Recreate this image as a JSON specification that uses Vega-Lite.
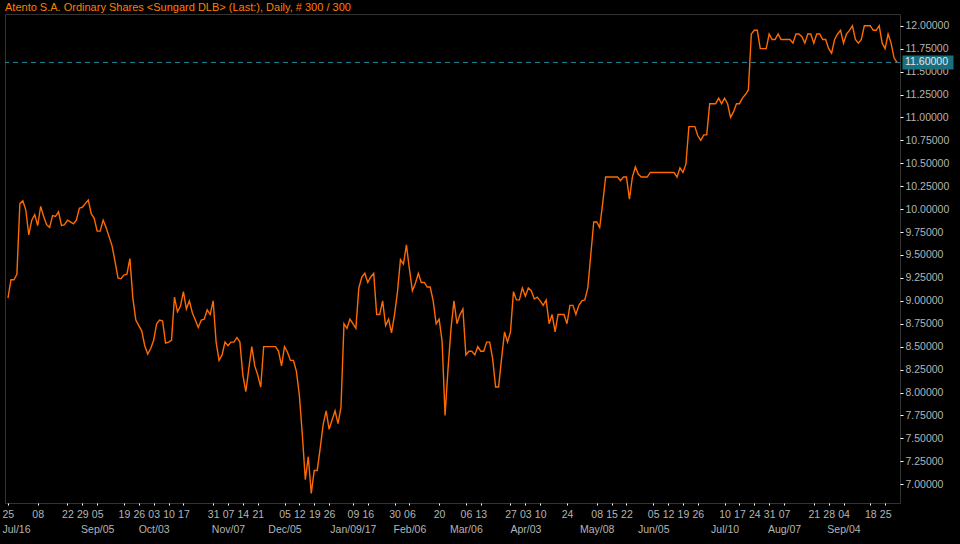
{
  "$schema": "https://vega.github.io/schema/vega-lite/v6.json",
  "width": 895,
  "height": 489,
  "autosize": {"type": "none"},
  "padding": {"left": 5, "top": 14, "right": 60, "bottom": 41},
  "background": "#000000",
  "config": {
    "view": {"stroke": "#333333", "strokeWidth": 1},
    "font": "Liberation Sans"
  },
  "title": {
    "text": "Atento S.A. Ordinary Shares <Sungard DLB> (Last:), Daily, # 300 / 300",
    "anchor": "start",
    "frame": "group",
    "color": "#ff7f00",
    "font": "Liberation Sans",
    "fontSize": 11,
    "fontWeight": "normal",
    "baseline": "alphabetic",
    "offset": 3,
    "dy": 11
  },
  "datasets": {
    "px": [
      {"d":"2016-07-25","v":9.03},{"d":"2016-07-26","v":9.23},{"d":"2016-07-27","v":9.23},{"d":"2016-07-28","v":9.29},{"d":"2016-07-29","v":10.06},
      {"d":"2016-08-01","v":10.09},{"d":"2016-08-02","v":9.99},{"d":"2016-08-03","v":9.72},{"d":"2016-08-04","v":9.88},{"d":"2016-08-05","v":9.94},
      {"d":"2016-08-08","v":9.82},{"d":"2016-08-09","v":10.03},{"d":"2016-08-10","v":9.92},{"d":"2016-08-11","v":9.83},{"d":"2016-08-12","v":9.80},
      {"d":"2016-08-15","v":9.93},{"d":"2016-08-16","v":9.92},{"d":"2016-08-17","v":9.97},{"d":"2016-08-18","v":9.82},{"d":"2016-08-19","v":9.83},
      {"d":"2016-08-22","v":9.88},{"d":"2016-08-23","v":9.86},{"d":"2016-08-24","v":9.84},{"d":"2016-08-25","v":9.88},{"d":"2016-08-26","v":10.01},
      {"d":"2016-08-29","v":10.02},{"d":"2016-08-30","v":10.06},{"d":"2016-08-31","v":10.10},{"d":"2016-09-01","v":9.95},{"d":"2016-09-02","v":9.90},
      {"d":"2016-09-06","v":9.76},{"d":"2016-09-07","v":9.76},{"d":"2016-09-08","v":9.88},{"d":"2016-09-09","v":9.80},
      {"d":"2016-09-12","v":9.70},{"d":"2016-09-13","v":9.60},{"d":"2016-09-14","v":9.43},{"d":"2016-09-15","v":9.25},{"d":"2016-09-16","v":9.24},
      {"d":"2016-09-19","v":9.28},{"d":"2016-09-20","v":9.29},{"d":"2016-09-21","v":9.46},{"d":"2016-09-22","v":9.03},{"d":"2016-09-23","v":8.79},
      {"d":"2016-09-26","v":8.73},{"d":"2016-09-27","v":8.67},{"d":"2016-09-28","v":8.51},{"d":"2016-09-29","v":8.42},{"d":"2016-09-30","v":8.48},
      {"d":"2016-10-03","v":8.57},{"d":"2016-10-04","v":8.75},{"d":"2016-10-05","v":8.79},{"d":"2016-10-06","v":8.78},{"d":"2016-10-07","v":8.54},
      {"d":"2016-10-10","v":8.55},{"d":"2016-10-11","v":8.57},{"d":"2016-10-12","v":9.04},{"d":"2016-10-13","v":8.88},{"d":"2016-10-14","v":8.94},
      {"d":"2016-10-17","v":9.10},{"d":"2016-10-18","v":8.91},{"d":"2016-10-19","v":9.00},{"d":"2016-10-20","v":8.87},{"d":"2016-10-21","v":8.79},
      {"d":"2016-10-24","v":8.71},{"d":"2016-10-25","v":8.79},{"d":"2016-10-26","v":8.80},{"d":"2016-10-27","v":8.90},{"d":"2016-10-28","v":8.85},
      {"d":"2016-10-31","v":9.00},{"d":"2016-11-01","v":8.55},{"d":"2016-11-02","v":8.35},{"d":"2016-11-03","v":8.41},{"d":"2016-11-04","v":8.55},
      {"d":"2016-11-07","v":8.51},{"d":"2016-11-08","v":8.55},{"d":"2016-11-09","v":8.55},{"d":"2016-11-10","v":8.60},{"d":"2016-11-11","v":8.55},
      {"d":"2016-11-14","v":8.19},{"d":"2016-11-15","v":8.01},{"d":"2016-11-16","v":8.26},{"d":"2016-11-17","v":8.50},{"d":"2016-11-18","v":8.29},
      {"d":"2016-11-21","v":8.19},{"d":"2016-11-22","v":8.06},{"d":"2016-11-23","v":8.50},{"d":"2016-11-25","v":8.50},
      {"d":"2016-11-28","v":8.50},{"d":"2016-11-29","v":8.50},{"d":"2016-11-30","v":8.50},{"d":"2016-12-01","v":8.45},{"d":"2016-12-02","v":8.29},
      {"d":"2016-12-05","v":8.50},{"d":"2016-12-06","v":8.44},{"d":"2016-12-07","v":8.35},{"d":"2016-12-08","v":8.35},{"d":"2016-12-09","v":8.23},
      {"d":"2016-12-12","v":7.97},{"d":"2016-12-13","v":7.54},{"d":"2016-12-14","v":7.05},{"d":"2016-12-15","v":7.30},{"d":"2016-12-16","v":6.90},
      {"d":"2016-12-19","v":7.15},{"d":"2016-12-20","v":7.15},{"d":"2016-12-21","v":7.39},{"d":"2016-12-22","v":7.65},{"d":"2016-12-23","v":7.80},
      {"d":"2016-12-27","v":7.60},{"d":"2016-12-28","v":7.70},{"d":"2016-12-29","v":7.80},{"d":"2016-12-30","v":7.66},
      {"d":"2017-01-03","v":7.84},{"d":"2017-01-04","v":8.75},{"d":"2017-01-05","v":8.70},{"d":"2017-01-06","v":8.80},
      {"d":"2017-01-09","v":8.75},{"d":"2017-01-10","v":8.70},{"d":"2017-01-11","v":9.14},{"d":"2017-01-12","v":9.26},{"d":"2017-01-13","v":9.30},
      {"d":"2017-01-17","v":9.20},{"d":"2017-01-18","v":9.26},{"d":"2017-01-19","v":9.30},{"d":"2017-01-20","v":8.85},
      {"d":"2017-01-23","v":8.85},{"d":"2017-01-24","v":9.00},{"d":"2017-01-25","v":8.73},{"d":"2017-01-26","v":8.80},{"d":"2017-01-27","v":8.65},
      {"d":"2017-01-30","v":8.85},{"d":"2017-01-31","v":9.10},{"d":"2017-02-01","v":9.45},{"d":"2017-02-02","v":9.40},{"d":"2017-02-03","v":9.61},
      {"d":"2017-02-06","v":9.35},{"d":"2017-02-07","v":9.11},{"d":"2017-02-08","v":9.19},{"d":"2017-02-09","v":9.30},{"d":"2017-02-10","v":9.20},
      {"d":"2017-02-13","v":9.20},{"d":"2017-02-14","v":9.15},{"d":"2017-02-15","v":9.15},{"d":"2017-02-16","v":9.00},{"d":"2017-02-17","v":8.75},
      {"d":"2017-02-21","v":8.80},{"d":"2017-02-22","v":8.56},{"d":"2017-02-23","v":7.75},{"d":"2017-02-24","v":8.26},
      {"d":"2017-02-27","v":8.70},{"d":"2017-02-28","v":9.00},{"d":"2017-03-01","v":8.75},{"d":"2017-03-02","v":8.85},{"d":"2017-03-03","v":8.91},
      {"d":"2017-03-06","v":8.41},{"d":"2017-03-07","v":8.45},{"d":"2017-03-08","v":8.45},{"d":"2017-03-09","v":8.41},{"d":"2017-03-10","v":8.50},
      {"d":"2017-03-13","v":8.45},{"d":"2017-03-14","v":8.45},{"d":"2017-03-15","v":8.55},{"d":"2017-03-16","v":8.55},{"d":"2017-03-17","v":8.37},
      {"d":"2017-03-20","v":8.06},{"d":"2017-03-21","v":8.06},{"d":"2017-03-22","v":8.37},{"d":"2017-03-23","v":8.66},{"d":"2017-03-24","v":8.55},
      {"d":"2017-03-27","v":8.66},{"d":"2017-03-28","v":9.10},{"d":"2017-03-29","v":9.01},{"d":"2017-03-30","v":9.01},{"d":"2017-03-31","v":9.14},
      {"d":"2017-04-03","v":9.05},{"d":"2017-04-04","v":9.14},{"d":"2017-04-05","v":9.11},{"d":"2017-04-06","v":9.02},{"d":"2017-04-07","v":9.04},
      {"d":"2017-04-10","v":9.00},{"d":"2017-04-11","v":8.95},{"d":"2017-04-12","v":9.01},{"d":"2017-04-13","v":8.75},
      {"d":"2017-04-17","v":8.85},{"d":"2017-04-18","v":8.66},{"d":"2017-04-19","v":8.85},{"d":"2017-04-20","v":8.85},{"d":"2017-04-21","v":8.85},
      {"d":"2017-04-24","v":8.75},{"d":"2017-04-25","v":8.95},{"d":"2017-04-26","v":8.95},{"d":"2017-04-27","v":8.85},{"d":"2017-04-28","v":8.95},
      {"d":"2017-05-01","v":9.00},{"d":"2017-05-02","v":9.01},{"d":"2017-05-03","v":9.14},{"d":"2017-05-04","v":9.50},{"d":"2017-05-05","v":9.86},
      {"d":"2017-05-08","v":9.86},{"d":"2017-05-09","v":9.80},{"d":"2017-05-10","v":10.06},{"d":"2017-05-11","v":10.35},{"d":"2017-05-12","v":10.35},
      {"d":"2017-05-15","v":10.35},{"d":"2017-05-16","v":10.35},{"d":"2017-05-17","v":10.35},{"d":"2017-05-18","v":10.31},{"d":"2017-05-19","v":10.35},
      {"d":"2017-05-22","v":10.35},{"d":"2017-05-23","v":10.11},{"d":"2017-05-24","v":10.35},{"d":"2017-05-25","v":10.46},{"d":"2017-05-26","v":10.38},
      {"d":"2017-05-30","v":10.35},{"d":"2017-05-31","v":10.35},{"d":"2017-06-01","v":10.35},{"d":"2017-06-02","v":10.40},
      {"d":"2017-06-05","v":10.40},{"d":"2017-06-06","v":10.40},{"d":"2017-06-07","v":10.40},{"d":"2017-06-08","v":10.40},{"d":"2017-06-09","v":10.40},
      {"d":"2017-06-12","v":10.40},{"d":"2017-06-13","v":10.40},{"d":"2017-06-14","v":10.40},{"d":"2017-06-15","v":10.35},{"d":"2017-06-16","v":10.45},
      {"d":"2017-06-19","v":10.40},{"d":"2017-06-20","v":10.49},{"d":"2017-06-21","v":10.90},{"d":"2017-06-22","v":10.90},{"d":"2017-06-23","v":10.90},
      {"d":"2017-06-26","v":10.80},{"d":"2017-06-27","v":10.75},{"d":"2017-06-28","v":10.81},{"d":"2017-06-29","v":10.81},{"d":"2017-06-30","v":11.15},
      {"d":"2017-07-03","v":11.15},{"d":"2017-07-05","v":11.15},{"d":"2017-07-06","v":11.21},{"d":"2017-07-07","v":11.15},
      {"d":"2017-07-10","v":11.21},{"d":"2017-07-11","v":11.15},{"d":"2017-07-12","v":11.00},{"d":"2017-07-13","v":11.06},{"d":"2017-07-14","v":11.15},
      {"d":"2017-07-17","v":11.15},{"d":"2017-07-18","v":11.21},{"d":"2017-07-19","v":11.25},{"d":"2017-07-20","v":11.30},{"d":"2017-07-21","v":11.91},
      {"d":"2017-07-24","v":11.95},{"d":"2017-07-25","v":11.95},{"d":"2017-07-26","v":11.75},{"d":"2017-07-27","v":11.75},{"d":"2017-07-28","v":11.75},
      {"d":"2017-07-31","v":11.91},{"d":"2017-08-01","v":11.85},{"d":"2017-08-02","v":11.85},{"d":"2017-08-03","v":11.91},{"d":"2017-08-04","v":11.85},
      {"d":"2017-08-07","v":11.85},{"d":"2017-08-08","v":11.85},{"d":"2017-08-09","v":11.85},{"d":"2017-08-10","v":11.81},{"d":"2017-08-11","v":11.91},
      {"d":"2017-08-14","v":11.91},{"d":"2017-08-15","v":11.88},{"d":"2017-08-16","v":11.81},{"d":"2017-08-17","v":11.91},{"d":"2017-08-18","v":11.91},
      {"d":"2017-08-21","v":11.81},{"d":"2017-08-22","v":11.91},{"d":"2017-08-23","v":11.91},{"d":"2017-08-24","v":11.85},{"d":"2017-08-25","v":11.85},
      {"d":"2017-08-28","v":11.75},{"d":"2017-08-29","v":11.70},{"d":"2017-08-30","v":11.85},{"d":"2017-08-31","v":11.91},{"d":"2017-09-01","v":11.95},
      {"d":"2017-09-05","v":11.81},{"d":"2017-09-06","v":11.91},{"d":"2017-09-07","v":11.95},{"d":"2017-09-08","v":12.00},
      {"d":"2017-09-11","v":11.85},{"d":"2017-09-12","v":11.81},{"d":"2017-09-13","v":11.85},{"d":"2017-09-14","v":12.00},{"d":"2017-09-15","v":12.00},
      {"d":"2017-09-18","v":12.00},{"d":"2017-09-19","v":11.95},{"d":"2017-09-20","v":11.95},{"d":"2017-09-21","v":12.00},{"d":"2017-09-22","v":11.81},
      {"d":"2017-09-25","v":11.75},{"d":"2017-09-26","v":11.91},{"d":"2017-09-27","v":11.81},{"d":"2017-09-28","v":11.65},{"d":"2017-09-29","v":11.60}
    ],
    "last": [{"v": 11.6}]
  },
  "layer": [
    {
      "data": {"name": "px"},
      "mark": {"type": "line", "color": "#ff6a00", "strokeWidth": 1.4, "interpolate": "linear"},
      "encoding": {
        "x": {
          "field": "d",
          "type": "ordinal",
          "scale": {"type": "point", "padding": 1.75},
          "axis": {
            "title": null,
            "orient": "bottom",
            "domain": false,
            "grid": false,
            "ticks": true,
            "tickColor": "#ffffff",
            "tickSize": 2,
            "tickWidth": 1,
            "labelAngle": 0,
            "labelColor": "#b4b4b4",
            "labelFont": "Liberation Sans",
            "labelFontSize": 10.5,
            "labelPadding": 4,
            "labelLineHeight": 15,
            "labelOverlap": false,
            "labelBound": false,
            "labelAlign": {"condition": {"test": "datum.value == '2016-07-25'", "value": "left"}, "value": "center"},
            "labelOffset": {"condition": {"test": "datum.value == '2016-07-25'", "value": -6}, "value": 0},
            "values": ["2016-07-25","2016-08-08","2016-08-22","2016-08-29","2016-09-06","2016-09-19","2016-09-26","2016-10-03","2016-10-10","2016-10-17","2016-10-31","2016-11-07","2016-11-14","2016-11-21","2016-12-05","2016-12-12","2016-12-19","2016-12-27","2017-01-09","2017-01-17","2017-01-30","2017-02-06","2017-02-21","2017-03-06","2017-03-13","2017-03-27","2017-04-03","2017-04-10","2017-04-24","2017-05-08","2017-05-15","2017-05-22","2017-06-05","2017-06-12","2017-06-19","2017-06-26","2017-07-10","2017-07-17","2017-07-24","2017-07-31","2017-08-07","2017-08-21","2017-08-28","2017-09-05","2017-09-18","2017-09-25"],
            "labelExpr": "[{'2016-09-06':'05','2016-12-27':'26','2017-01-17':'16','2017-02-21':'20','2017-09-05':'04'}[datum.value] || substring(datum.value, 8, 10), {'2016-07-25':'Jul/16','2016-09-06':'Sep/05','2016-10-03':'Oct/03','2016-11-07':'Nov/07','2016-12-05':'Dec/05','2017-01-09':'Jan/09/17','2017-02-06':'Feb/06','2017-03-06':'Mar/06','2017-04-03':'Apr/03','2017-05-08':'May/08','2017-06-05':'Jun/05','2017-07-10':'Jul/10','2017-08-07':'Aug/07','2017-09-05':'Sep/04'}[datum.value] || '']"
          }
        },
        "y": {
          "field": "v",
          "type": "quantitative",
          "scale": {"domain": [6.795, 12.128], "zero": false, "nice": false},
          "axis": {
            "title": null,
            "orient": "right",
            "domain": false,
            "grid": false,
            "tickColor": "#ffffff",
            "tickSize": 3,
            "labelColor": "#b4b4b4",
            "labelFont": "Liberation Sans",
            "labelFontSize": 10.5,
            "labelPadding": 2,
            "format": ".5f",
            "labelOverlap": false,
            "labelBound": false,
            "values": [7, 7.25, 7.5, 7.75, 8, 8.25, 8.5, 8.75, 9, 9.25, 9.5, 9.75, 10, 10.25, 10.5, 10.75, 11, 11.25, 11.5, 11.75, 12]
          }
        }
      }
    },
    {
      "data": {"name": "last"},
      "mark": {"type": "rule", "color": "#1f8a9c", "strokeWidth": 1, "strokeDash": [5, 4]},
      "encoding": {
        "y": {"field": "v", "type": "quantitative", "axis": {"title": null, "orient": "right", "domain": false, "grid": false, "tickColor": "#ffffff", "tickSize": 3, "labelColor": "#b4b4b4", "labelFont": "Liberation Sans", "labelFontSize": 10.5, "labelPadding": 2, "format": ".5f", "labelOverlap": false, "labelBound": false, "values": [7, 7.25, 7.5, 7.75, 8, 8.25, 8.5, 8.75, 9, 9.25, 9.5, 9.75, 10, 10.25, 10.5, 10.75, 11, 11.25, 11.5, 11.75, 12]}}
      }
    },
    {
      "data": {"name": "last"},
      "mark": {"type": "tick", "orient": "horizontal", "size": 51, "thickness": 14, "color": "#18707f", "opacity": 1, "xOffset": 28},
      "encoding": {
        "x": {"value": "width"},
        "y": {"field": "v", "type": "quantitative", "axis": {"title": null, "orient": "right", "domain": false, "grid": false, "tickColor": "#ffffff", "tickSize": 3, "labelColor": "#b4b4b4", "labelFont": "Liberation Sans", "labelFontSize": 10.5, "labelPadding": 2, "format": ".5f", "labelOverlap": false, "labelBound": false, "values": [7, 7.25, 7.5, 7.75, 8, 8.25, 8.5, 8.75, 9, 9.25, 9.5, 9.75, 10, 10.25, 10.5, 10.75, 11, 11.25, 11.5, 11.75, 12]}}
      }
    },
    {
      "data": {"name": "last"},
      "mark": {"type": "text", "align": "left", "baseline": "middle", "dx": 5, "color": "#e6e6e6", "font": "Liberation Sans", "fontSize": 10.5},
      "encoding": {
        "x": {"value": "width"},
        "y": {"field": "v", "type": "quantitative", "axis": {"title": null, "orient": "right", "domain": false, "grid": false, "tickColor": "#ffffff", "tickSize": 3, "labelColor": "#b4b4b4", "labelFont": "Liberation Sans", "labelFontSize": 10.5, "labelPadding": 2, "format": ".5f", "labelOverlap": false, "labelBound": false, "values": [7, 7.25, 7.5, 7.75, 8, 8.25, 8.5, 8.75, 9, 9.25, 9.5, 9.75, 10, 10.25, 10.5, 10.75, 11, 11.25, 11.5, 11.75, 12]}},
        "text": {"field": "v", "type": "quantitative", "format": ".5f"}
      }
    }
  ]
}
